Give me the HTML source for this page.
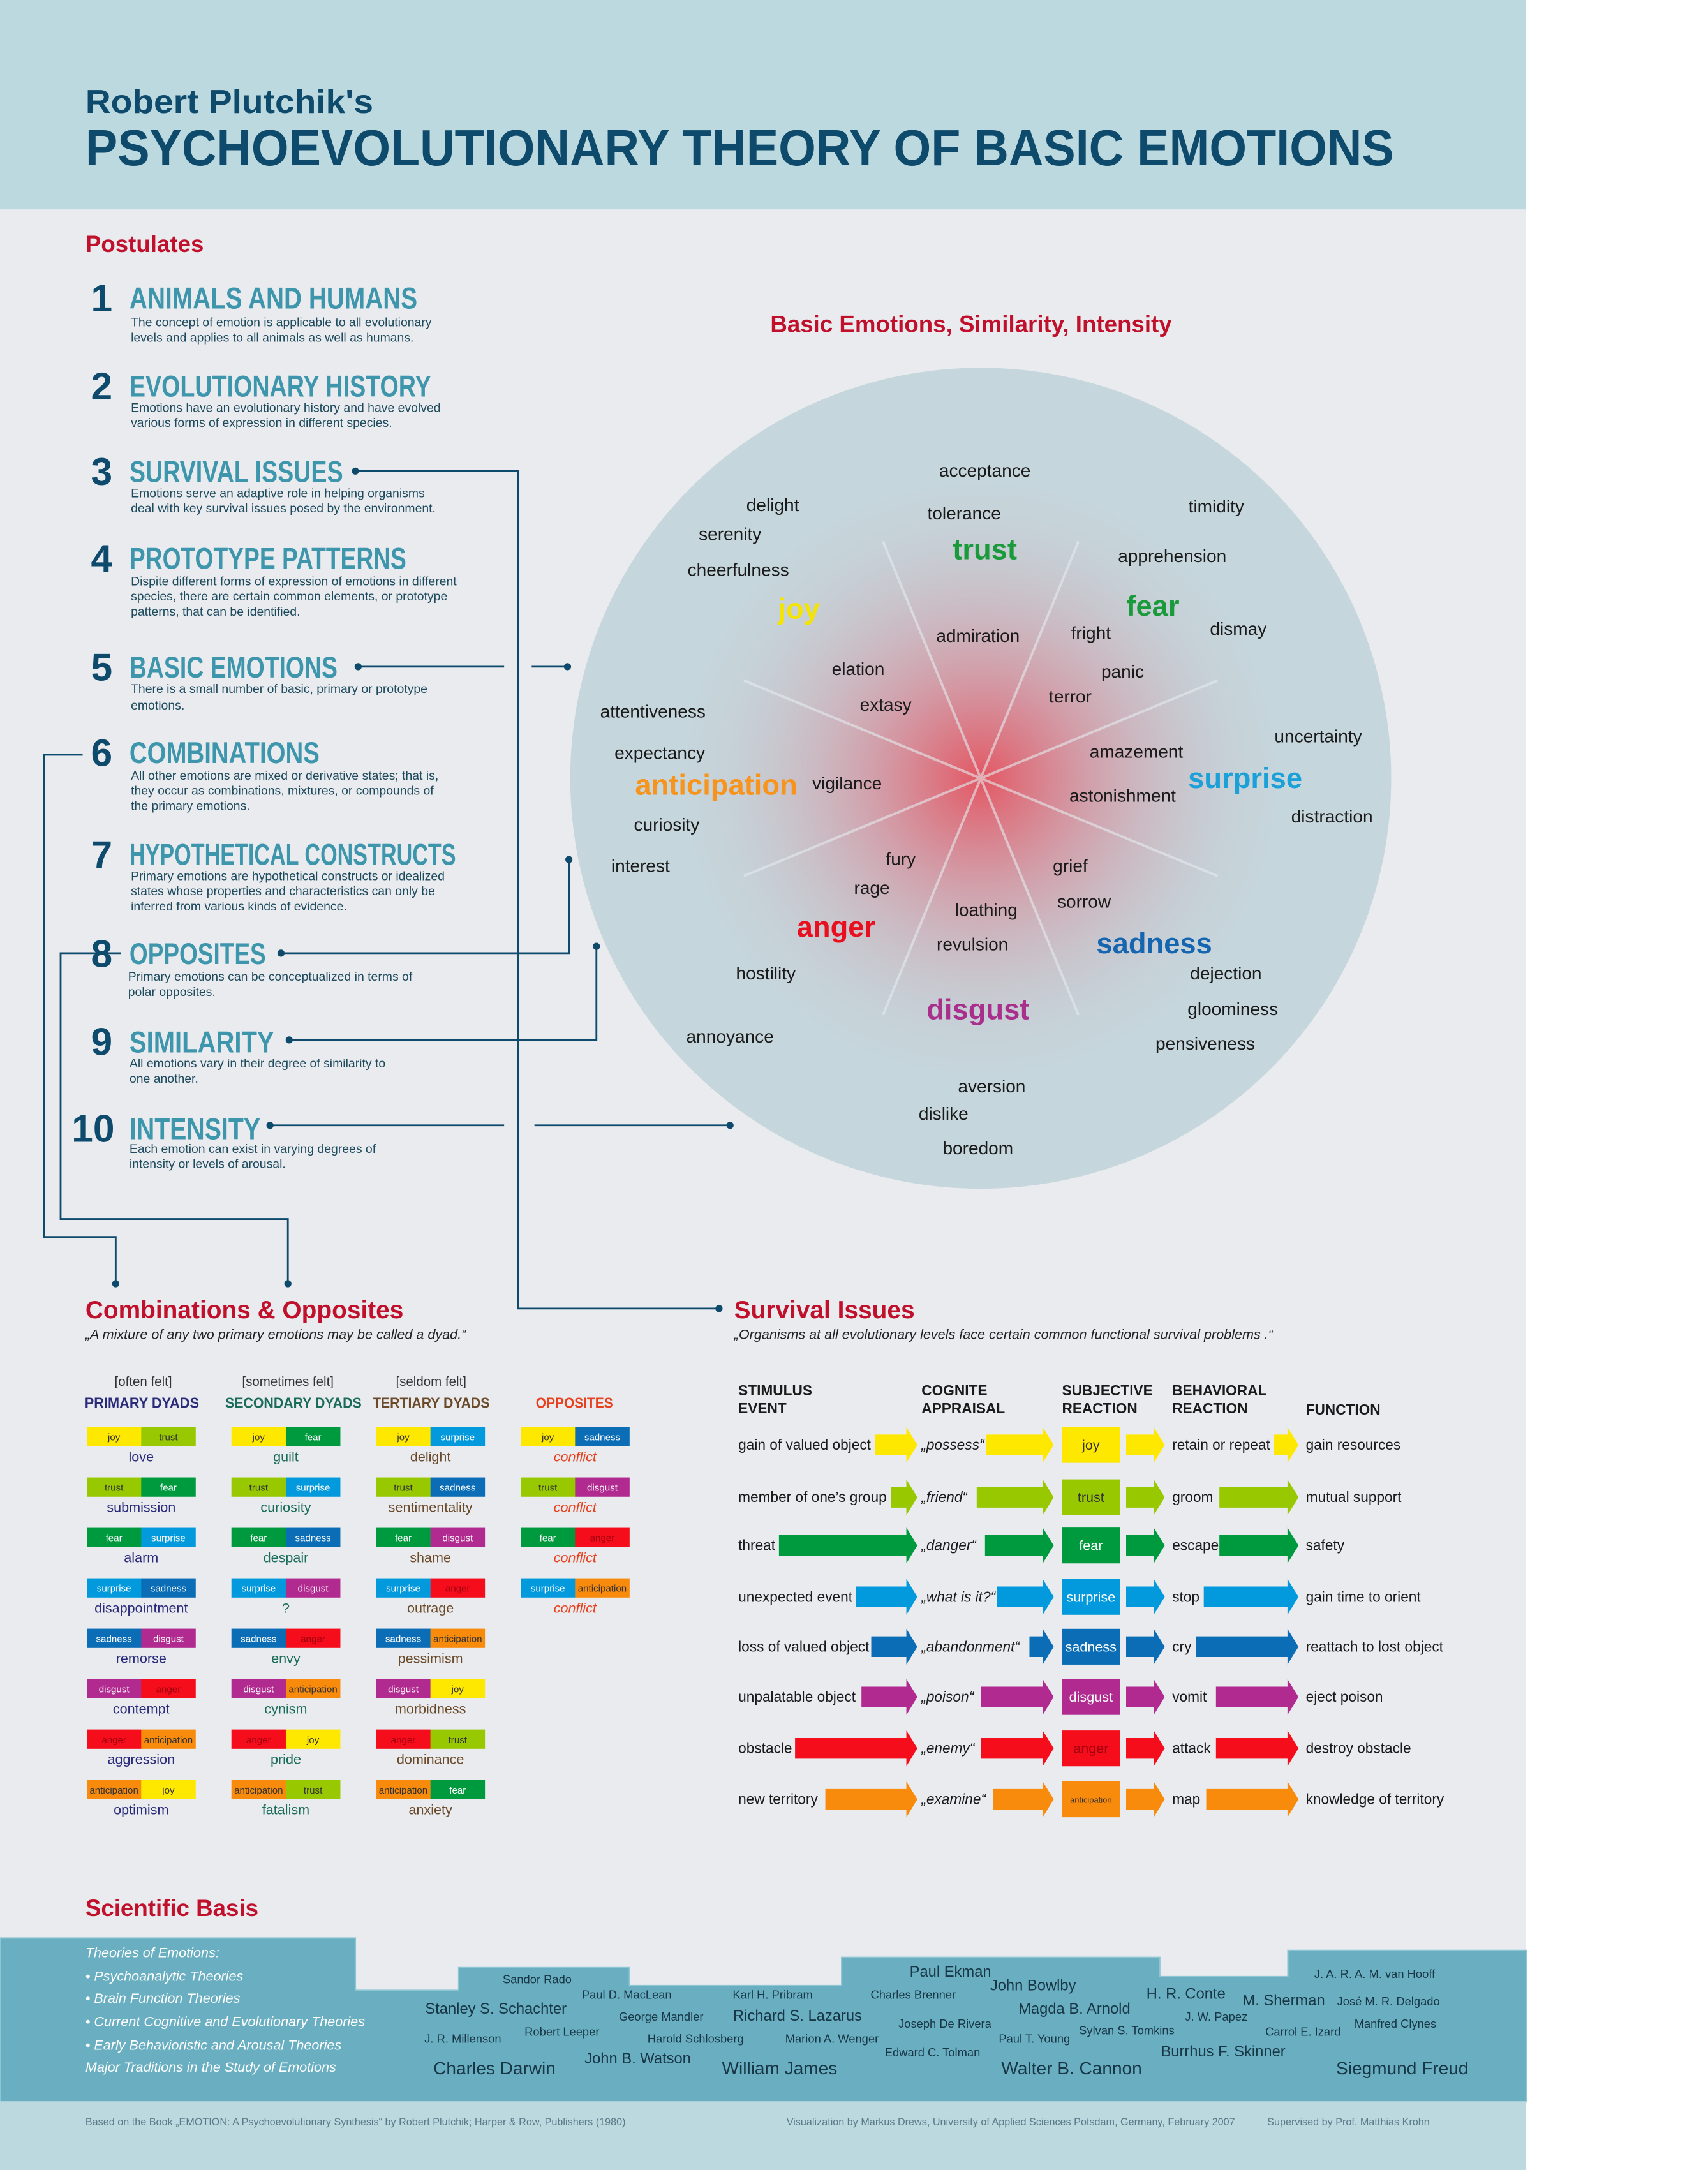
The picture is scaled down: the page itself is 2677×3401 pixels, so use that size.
<!DOCTYPE html>
<html><head><meta charset="utf-8"><style>
html,body{margin:0;padding:0;background:#fff}
svg{display:block}
text{font-family:"Liberation Sans",sans-serif}
.pd{font-size:9px;fill:#1d4a5c}
.ph{font-size:22px;font-weight:bold;fill:#3e96ad}
.pn{font-size:28px;font-weight:bold;fill:#0d4a6b}
.w{font-size:13px;fill:#1a1a1a}
.e{font-size:21px;font-weight:bold}
.bx{font-size:7px;text-anchor:middle}
.lb{font-size:10px;text-anchor:middle}
.nm{fill:#173646;text-anchor:middle}
.st{font-size:10.5px;fill:#1a1a1a}
.hd{font-size:10.5px;font-weight:bold;fill:#1a1a1a}
</style></head><body>
<svg width="2677" height="3401" viewBox="0 0 1240 1575.4" preserveAspectRatio="none" xmlns="http://www.w3.org/2000/svg">
<defs>
<radialGradient id="rg" cx="712" cy="565" r="230" gradientUnits="userSpaceOnUse">
<stop offset="0" stop-color="#e8414e" stop-opacity="0.85"/>
<stop offset="0.35" stop-color="#e06070" stop-opacity="0.45"/>
<stop offset="1" stop-color="#c5d6dc" stop-opacity="0"/>
</radialGradient>
</defs>
<rect x="0" y="0" width="1108" height="1576" fill="#e9ebef"/>
<rect x="0" y="0" width="1108" height="152" fill="#bcd9df"/>
<text x="62" y="82" font-size="24" font-weight="bold" fill="#0d4a6b" textLength="209" lengthAdjust="spacingAndGlyphs">Robert Plutchik's</text>
<text x="62" y="120" font-size="37" font-weight="bold" fill="#0d4a6b" textLength="950" lengthAdjust="spacingAndGlyphs">PSYCHOEVOLUTIONARY THEORY OF BASIC EMOTIONS</text>
<text x="62" y="183" font-size="17" font-weight="bold" fill="#c0102b">Postulates</text>

<g>
<text class="pn" x="66" y="226">1</text><text class="ph" x="94" y="224" textLength="209" lengthAdjust="spacingAndGlyphs">ANIMALS AND HUMANS</text>
<text class="pd" x="95" y="237">The concept of emotion is applicable to all evolutionary</text><text class="pd" x="95" y="248">levels and applies to all animals as well as humans.</text>
<text class="pn" x="66" y="290">2</text><text class="ph" x="94" y="288" textLength="219" lengthAdjust="spacingAndGlyphs">EVOLUTIONARY HISTORY</text>
<text class="pd" x="95" y="299">Emotions have an evolutionary history and have evolved</text><text class="pd" x="95" y="310">various forms of expression in different species.</text>
<text class="pn" x="66" y="352">3</text><text class="ph" x="94" y="350" textLength="155" lengthAdjust="spacingAndGlyphs">SURVIVAL ISSUES</text>
<text class="pd" x="95" y="361">Emotions serve an adaptive role in helping organisms</text><text class="pd" x="95" y="372">deal with key survival issues posed by the environment.</text>
<text class="pn" x="66" y="415">4</text><text class="ph" x="94" y="413" textLength="201" lengthAdjust="spacingAndGlyphs">PROTOTYPE PATTERNS</text>
<text class="pd" x="95" y="425">Dispite different forms of expression of emotions in different</text><text class="pd" x="95" y="436">species, there are certain common elements, or prototype</text><text class="pd" x="95" y="447">patterns, that can be identified.</text>
<text class="pn" x="66" y="494">5</text><text class="ph" x="94" y="492" textLength="151" lengthAdjust="spacingAndGlyphs">BASIC EMOTIONS</text>
<text class="pd" x="95" y="503">There is a small number of basic, primary or prototype</text><text class="pd" x="95" y="515">emotions.</text>
<text class="pn" x="66" y="556">6</text><text class="ph" x="94" y="554" textLength="138" lengthAdjust="spacingAndGlyphs">COMBINATIONS</text>
<text class="pd" x="95" y="566">All other emotions are mixed or derivative states; that is,</text><text class="pd" x="95" y="577">they occur as combinations, mixtures, or compounds of</text><text class="pd" x="95" y="588">the primary emotions.</text>
<text class="pn" x="66" y="630">7</text><text class="ph" x="94" y="628" textLength="237" lengthAdjust="spacingAndGlyphs">HYPOTHETICAL CONSTRUCTS</text>
<text class="pd" x="95" y="639">Primary emotions are hypothetical constructs or idealized</text><text class="pd" x="95" y="650">states whose properties and characteristics can only be</text><text class="pd" x="95" y="661">inferred from various kinds of evidence.</text>
<text class="pn" x="66" y="702">8</text><text class="ph" x="94" y="700" textLength="99" lengthAdjust="spacingAndGlyphs">OPPOSITES</text>
<text class="pd" x="93" y="712">Primary emotions can be conceptualized in terms of</text><text class="pd" x="93" y="723">polar opposites.</text>
<text class="pn" x="66" y="766">9</text><text class="ph" x="94" y="764" textLength="105" lengthAdjust="spacingAndGlyphs">SIMILARITY</text>
<text class="pd" x="94" y="775">All emotions vary in their degree of similarity to</text><text class="pd" x="94" y="786">one another.</text>
<text class="pn" x="52" y="829">10</text><text class="ph" x="94" y="827" textLength="95" lengthAdjust="spacingAndGlyphs">INTENSITY</text>
<text class="pd" x="94" y="837">Each emotion can exist in varying degrees of</text><text class="pd" x="94" y="848">intensity or levels of arousal.</text>
</g>

<g stroke="#0d4a6b" stroke-width="1.3" fill="none">
<polyline points="258,342 376,342 376,950 522,950"/>
<line x1="260" y1="484" x2="366" y2="484"/><line x1="386" y1="484" x2="412" y2="484"/>
<polyline points="204,692 413,692 413,624"/>
<polyline points="210,755 433,755 433,687"/>
<line x1="196" y1="817" x2="366" y2="817"/><line x1="388" y1="817" x2="530" y2="817"/>
<polyline points="60,548 32,548 32,898 84,898 84,932"/>
<polyline points="88,692 44,692 44,885 209,885 209,932"/>
</g>
<g fill="#0d4a6b">
<circle cx="258" cy="342" r="2.6"/><circle cx="522" cy="950" r="2.6"/><circle cx="260" cy="484" r="2.6"/><circle cx="412" cy="484" r="2.6"/>
<circle cx="204" cy="692" r="2.6"/><circle cx="413" cy="624" r="2.6"/><circle cx="210" cy="755" r="2.6"/><circle cx="433" cy="687" r="2.6"/>
<circle cx="196" cy="817" r="2.6"/><circle cx="530" cy="817" r="2.6"/><circle cx="84" cy="932" r="2.6"/><circle cx="209" cy="932" r="2.6"/>
</g>

<text x="705" y="241" font-size="17" font-weight="bold" fill="#c0102b" text-anchor="middle">Basic Emotions, Similarity, Intensity</text>
<circle cx="712" cy="565" r="298" fill="#c5d6dc"/>
<circle cx="712" cy="565" r="260" fill="url(#rg)"/>
<g stroke="#e4ecef" stroke-width="1.8" opacity="0.6">
<line x1="712" y1="565" x2="641" y2="393"/><line x1="712" y1="565" x2="783" y2="393"/>
<line x1="712" y1="565" x2="884" y2="494"/><line x1="712" y1="565" x2="884" y2="636"/>
<line x1="712" y1="565" x2="783" y2="737"/><line x1="712" y1="565" x2="641" y2="737"/>
<line x1="712" y1="565" x2="540" y2="636"/><line x1="712" y1="565" x2="540" y2="494"/>
</g>
<g text-anchor="middle">
<text class="w" x="715" y="346">acceptance</text><text class="w" x="700" y="377">tolerance</text>
<text class="e" x="715" y="406" fill="#1a9a3a">trust</text><text class="w" x="710" y="466">admiration</text>
<text class="w" x="883" y="372">timidity</text><text class="w" x="851" y="408">apprehension</text>
<text class="e" x="837" y="447" fill="#1a9a3a">fear</text><text class="w" x="899" y="461">dismay</text>
<text class="w" x="792" y="464">fright</text><text class="w" x="815" y="492">panic</text><text class="w" x="777" y="510">terror</text>
<text class="w" x="561" y="371">delight</text><text class="w" x="530" y="392">serenity</text><text class="w" x="536" y="418">cheerfulness</text>
<text class="e" x="580" y="449" fill="#f5e400">joy</text><text class="w" x="623" y="490">elation</text><text class="w" x="643" y="516">extasy</text>
<text class="w" x="957" y="539">uncertainty</text><text class="w" x="825" y="550">amazement</text>
<text class="e" x="904" y="572" fill="#1ba0d8">surprise</text><text class="w" x="815" y="582">astonishment</text><text class="w" x="967" y="597">distraction</text>
<text class="w" x="474" y="521">attentiveness</text><text class="w" x="479" y="551">expectancy</text>
<text class="e" x="520" y="577" fill="#f7941d">anticipation</text><text class="w" x="615" y="573">vigilance</text>
<text class="w" x="484" y="603">curiosity</text><text class="w" x="465" y="633">interest</text>
<text class="w" x="654" y="628">fury</text><text class="w" x="633" y="649">rage</text>
<text class="e" x="607" y="680" fill="#e8101e">anger</text>
<text class="w" x="777" y="633">grief</text><text class="w" x="787" y="659">sorrow</text>
<text class="w" x="716" y="665">loathing</text><text class="w" x="706" y="690">revulsion</text>
<text class="e" x="838" y="692" fill="#1565b0">sadness</text>
<text class="w" x="890" y="711">dejection</text><text class="w" x="895" y="737">gloominess</text><text class="w" x="875" y="762">pensiveness</text>
<text class="w" x="556" y="711">hostility</text><text class="w" x="530" y="757">annoyance</text>
<text class="e" x="710" y="740" fill="#a8308c">disgust</text>
<text class="w" x="720" y="793">aversion</text><text class="w" x="685" y="813">dislike</text><text class="w" x="710" y="838">boredom</text>
</g>

<text x="62" y="957" font-size="18" font-weight="bold" fill="#c0102b">Combinations &amp; Opposites</text>
<text x="62" y="972" font-size="10" font-style="italic" fill="#222">„A mixture of any two primary emotions may be called a dyad.“</text>
<g text-anchor="middle" font-size="9.5" fill="#333">
<text x="104" y="1006">[often felt]</text><text x="209" y="1006">[sometimes felt]</text><text x="313" y="1006">[seldom felt]</text>
</g>
<g font-size="10.5" font-weight="bold">
<text x="61.5" y="1022" fill="#2a2a7a" textLength="83" lengthAdjust="spacingAndGlyphs">PRIMARY DYADS</text>
<text x="163.5" y="1022" fill="#1a6b5a" textLength="99" lengthAdjust="spacingAndGlyphs">SECONDARY DYADS</text>
<text x="270.5" y="1022" fill="#6b4a2a" textLength="85" lengthAdjust="spacingAndGlyphs">TERTIARY DYADS</text>
<text x="389" y="1022" fill="#e8401c" textLength="56" lengthAdjust="spacingAndGlyphs">OPPOSITES</text>
</g>
<g id="dy"></g>

<text x="533" y="957" font-size="18" font-weight="bold" fill="#c0102b">Survival Issues</text>
<text x="533" y="972" font-size="10" font-style="italic" fill="#222">„Organisms at all evolutionary levels face certain common functional survival problems .“</text>
<text class="hd" x="536" y="1013">STIMULUS</text><text class="hd" x="536" y="1026">EVENT</text>
<text class="hd" x="669" y="1013">COGNITE</text><text class="hd" x="669" y="1026">APPRAISAL</text>
<text class="hd" x="771" y="1013">SUBJECTIVE</text><text class="hd" x="771" y="1026">REACTION</text>
<text class="hd" x="851" y="1013">BEHAVIORAL</text><text class="hd" x="851" y="1026">REACTION</text>
<text class="hd" x="948" y="1027">FUNCTION</text>
<g id="sv"></g>

<text x="62" y="1391" font-size="17" font-weight="bold" fill="#c0102b">Scientific Basis</text>
<path d="M0,1407 L258,1407 L258,1445 L333,1445 L333,1428.5 L457,1428.5 L457,1441.5 L611,1441.5 L611,1421 L842,1421 L842,1435 L935,1435 L935,1416 L1108,1416 L1108,1526 L0,1526 Z" fill="#6aafc1" stroke="#8fc6d3" stroke-width="1"/>
<rect x="0" y="1525.5" width="1108" height="50" fill="#bcd9df"/>
<g font-size="10" font-style="italic" fill="#fff">
<text x="62" y="1421">Theories of Emotions:</text><text x="62" y="1438">• Psychoanalytic Theories</text><text x="62" y="1454">• Brain Function Theories</text>
<text x="62" y="1471">• Current Cognitive and Evolutionary Theories</text><text x="62" y="1488">• Early Behavioristic and Arousal Theories</text>
<text x="62" y="1504">Major Traditions in the Study of Emotions</text>
</g>
<g class="nm" font-size="8.5">
<text x="390" y="1440">Sandor Rado</text><text x="455" y="1451">Paul D. MacLean</text><text x="480" y="1467">George Mandler</text>
<text x="561" y="1451">Karl H. Pribram</text><text x="663" y="1451">Charles Brenner</text><text x="686" y="1472">Joseph De Rivera</text>
<text x="998" y="1436">J. A. R. A. M. van Hooff</text><text x="1008" y="1456">José M. R. Delgado</text><text x="883" y="1467">J. W. Papez</text>
<text x="1013" y="1472">Manfred Clynes</text><text x="946" y="1478">Carrol E. Izard</text><text x="818" y="1477">Sylvan S. Tomkins</text>
<text x="751" y="1483">Paul T. Young</text><text x="336" y="1483">J. R. Millenson</text><text x="408" y="1478">Robert Leeper</text>
<text x="505" y="1483">Harold Schlosberg</text><text x="604" y="1483">Marion A. Wenger</text><text x="677" y="1493">Edward C. Tolman</text>
</g>
<g class="nm" font-size="11">
<text x="360" y="1462">Stanley S. Schachter</text><text x="579" y="1467">Richard S. Lazarus</text><text x="690" y="1435">Paul Ekman</text>
<text x="750" y="1445">John Bowlby</text><text x="780" y="1462">Magda B. Arnold</text><text x="861" y="1451">H. R. Conte</text>
<text x="932" y="1456">M. Sherman</text><text x="888" y="1493">Burrhus F. Skinner</text><text x="463" y="1498">John B. Watson</text>
</g>
<g class="nm" font-size="13">
<text x="359" y="1506">Charles Darwin</text><text x="566" y="1506">William James</text><text x="778" y="1506">Walter B. Cannon</text><text x="1018" y="1506">Siegmund Freud</text>
</g>
<g font-size="7.5" fill="#5a7a88">
<text x="62" y="1543">Based on the Book „EMOTION: A Psychoevolutionary Synthesis“ by Robert Plutchik; Harper &amp; Row, Publishers (1980)</text>
<text x="571" y="1543">Visualization by Markus Drews, University of Applied Sciences Potsdam, Germany, February 2007</text>
<text x="920" y="1543">Supervised by Prof. Matthias Krohn</text>
</g>
</svg>
<script>
(function(){
var NS="http://www.w3.org/2000/svg";
var C={joy:"#ffe800",trust:"#97c800",fear:"#009a3e",surprise:"#0399dd",sadness:"#0a6db5",disgust:"#b02a8f",anger:"#f50d1b",anticipation:"#f88b0c"};
var T={joy:"#333",trust:"#333",fear:"#fff",surprise:"#fff",sadness:"#fff",disgust:"#fff",anger:"#a00010",anticipation:"#333"};
function el(p,n,a,t){var e=document.createElementNS(NS,n);for(var k in a)e.setAttribute(k,a[k]);if(t!=null)e.textContent=t;p.appendChild(e);return e;}
var dy=document.getElementById("dy");
var cols=[
{x:63,c:"#2a2a7a",it:false,r:[["joy","trust","love"],["trust","fear","submission"],["fear","surprise","alarm"],["surprise","sadness","disappointment"],["sadness","disgust","remorse"],["disgust","anger","contempt"],["anger","anticipation","aggression"],["anticipation","joy","optimism"]]},
{x:168,c:"#1a6b5a",it:false,r:[["joy","fear","guilt"],["trust","surprise","curiosity"],["fear","sadness","despair"],["surprise","disgust","?"],["sadness","anger","envy"],["disgust","anticipation","cynism"],["anger","joy","pride"],["anticipation","trust","fatalism"]]},
{x:273,c:"#6b4a2a",it:false,r:[["joy","surprise","delight"],["trust","sadness","sentimentality"],["fear","disgust","shame"],["surprise","anger","outrage"],["sadness","anticipation","pessimism"],["disgust","joy","morbidness"],["anger","trust","dominance"],["anticipation","fear","anxiety"]]},
{x:378,c:"#e8401c",it:true,r:[["joy","sadness","conflict"],["trust","disgust","conflict"],["fear","anger","conflict"],["surprise","anticipation","conflict"]]}];
cols.forEach(function(col){col.r.forEach(function(r,i){
 var y=1036+i*36.6;
 [0,1].forEach(function(j){var x=col.x+j*39.5;var n=r[j];
  el(dy,"rect",{x:x,y:y,width:39.6,height:14,fill:C[n]});
  el(dy,"text",{x:x+19.75,y:y+9.8,"class":"bx",fill:T[n],"font-size":n=="anticipation"?"6":"7"},n);});
 var a={x:col.x+39.5,y:y+25,"class":"lb",fill:col.c};if(col.it)a["font-style"]="italic";
 el(dy,"text",a,r[2]);
});});
var sv=document.getElementById("sv");
var E=["joy","trust","fear","surprise","sadness","disgust","anger","anticipation"];
var Y=[1049,1087,1122,1159.3,1195.5,1232,1269.3,1306.3];
var s1=["gain of valued object","member of one\u2019s group","threat","unexpected event","loss of valued object","unpalatable object","obstacle","new territory"];
var s2=["\u201epossess\u201c","\u201efriend\u201c","\u201edanger\u201c","\u201ewhat is it?\u201c","\u201eabandonment\u201c","\u201epoison\u201c","\u201eenemy\u201c","\u201eexamine\u201c"];
var s4=["retain or repeat","groom","escape","stop","cry","vomit","attack","map"];
var s5=["gain resources","mutual support","safety","gain time to orient","reattach to lost object","eject poison","destroy obstacle","knowledge of territory"];
var a1=[355,388,158,315,347,327,191,253],a2=[582,563,580,605,671,572,572,597],a4=[1172,1060,1060,1028,1012,1053,1053,1033];
function px(z){return z*0.3545+509.5;}
function arrow(xs,tip,c,col){var h=tip-8;
 el(sv,"polygon",{points:[xs,c-7.5,h,c-7.5,h,c-13,tip,c,h,c+13,h,c+7.5,xs,c+7.5].join(" "),fill:col});}
E.forEach(function(n,i){var c=Y[i],col=C[n];
 arrow(px(a1[i]),666,c,col);arrow(px(a2[i]),765,c,col);arrow(px(869),845.6,c,col);arrow(px(a4[i]),942.7,c,col);
 el(sv,"rect",{x:771,y:c-13,width:42,height:26,fill:col});
 el(sv,"text",{x:792,y:c+(n=="anticipation"?2.5:3.5),"text-anchor":"middle","font-size":n=="anticipation"?"6":"10",fill:T[n]},n);
 el(sv,"text",{x:536,y:c+3.5,"class":"st"},s1[i]);
 el(sv,"text",{x:669,y:c+3.5,"class":"st","font-style":"italic"},s2[i]);
 el(sv,"text",{x:851,y:c+3.5,"class":"st"},s4[i]);
 el(sv,"text",{x:948,y:c+3.5,"class":"st"},s5[i]);
});
})();
</script>
</body></html>
